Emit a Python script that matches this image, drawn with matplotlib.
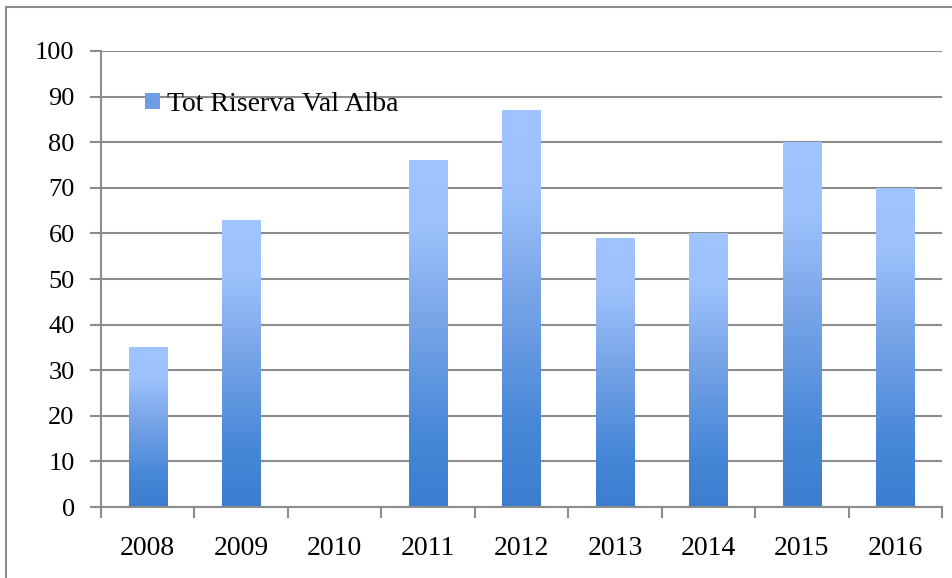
import matplotlib.pyplot as plt
import numpy as np
from matplotlib.colors import LinearSegmentedColormap
from matplotlib.lines import Line2D
from matplotlib.patches import Patch

years = ['2008', '2009', '2010', '2011', '2012', '2013', '2014', '2015', '2016']
values = [35, 63, 0, 76, 87, 59, 60, 80, 70]
series_name = 'Tot Riserva Val Alba'
yticks = [0, 10, 20, 30, 40, 50, 60, 70, 80, 90, 100]

plt.rcParams['font.family'] = ['Liberation Serif', 'DejaVu Serif']

grid_col = '#8c8c8c'
bar_cmap = LinearSegmentedColormap.from_list('excel_blue', [
    (0.0, '#3c7dcf'), (0.2, '#4787d8'), (0.55, '#7aa6e8'),
    (0.8, '#9cc1fc'), (1.0, '#a0c4ff')])

fig = plt.figure(figsize=(9.53, 5.78), dpi=100)
ax = fig.add_axes([0.106, 0.1228, 0.8825, 0.789])

x = np.arange(len(years))
width = 0.41
bars = ax.bar(x, values, width=width, color='none', edgecolor='none', zorder=2)

# vertical gradient fill for each bar
grad = np.linspace(0, 1, 256).reshape(-1, 1)
for b in bars:
    h = b.get_height()
    if h <= 0:
        continue
    x0, y0 = b.get_xy()
    im = ax.imshow(grad, extent=[x0, x0 + width, y0, y0 + h], origin='lower',
                   aspect='auto', cmap=bar_cmap, zorder=2, interpolation='bilinear')
    im.set_clip_path(b)

ax.set_xlim(-0.5, len(years) - 0.5)
ax.set_ylim(0, 100)
ax.set_yticks(yticks)
ax.set_xticks(np.arange(len(years) + 1) - 0.5, minor=False)
ax.set_xticklabels([])
ax.set_xticks(x, minor=True)
ax.set_xticklabels(years, minor=True)
ax.tick_params(axis='x', which='minor', length=0, labelsize=20, pad=21)
ax.tick_params(axis='x', which='major', length=8, width=1.5, color=grid_col)
ax.tick_params(axis='y', length=8, width=1.5, color=grid_col, labelsize=19, pad=11)

ax.yaxis.grid(True, color=grid_col, linewidth=1.5, zorder=1)
ax.set_axisbelow(True)
for s in ['top', 'right']:
    ax.spines[s].set_visible(False)
for s in ['left', 'bottom']:
    ax.spines[s].set_color(grid_col)
    ax.spines[s].set_linewidth(1.5)

handle = Patch(facecolor='#6d9de4', edgecolor='none')
ax.legend([handle], [series_name], loc='center left', bbox_to_anchor=(0.052, 0.883),
          frameon=False, fontsize=20, handlelength=0.55, handleheight=0.55,
          handletextpad=0.25, borderaxespad=0, borderpad=0)

# chart-area border (top and left edges visible)
fig.add_artist(Line2D([0.0063, 1.0], [0.988, 0.988], color='#8c8c8c', lw=1.5))
fig.add_artist(Line2D([0.0063, 0.0063], [0.0, 0.988], color='#8c8c8c', lw=1.5))

fig.savefig('out.png', dpi=100)
